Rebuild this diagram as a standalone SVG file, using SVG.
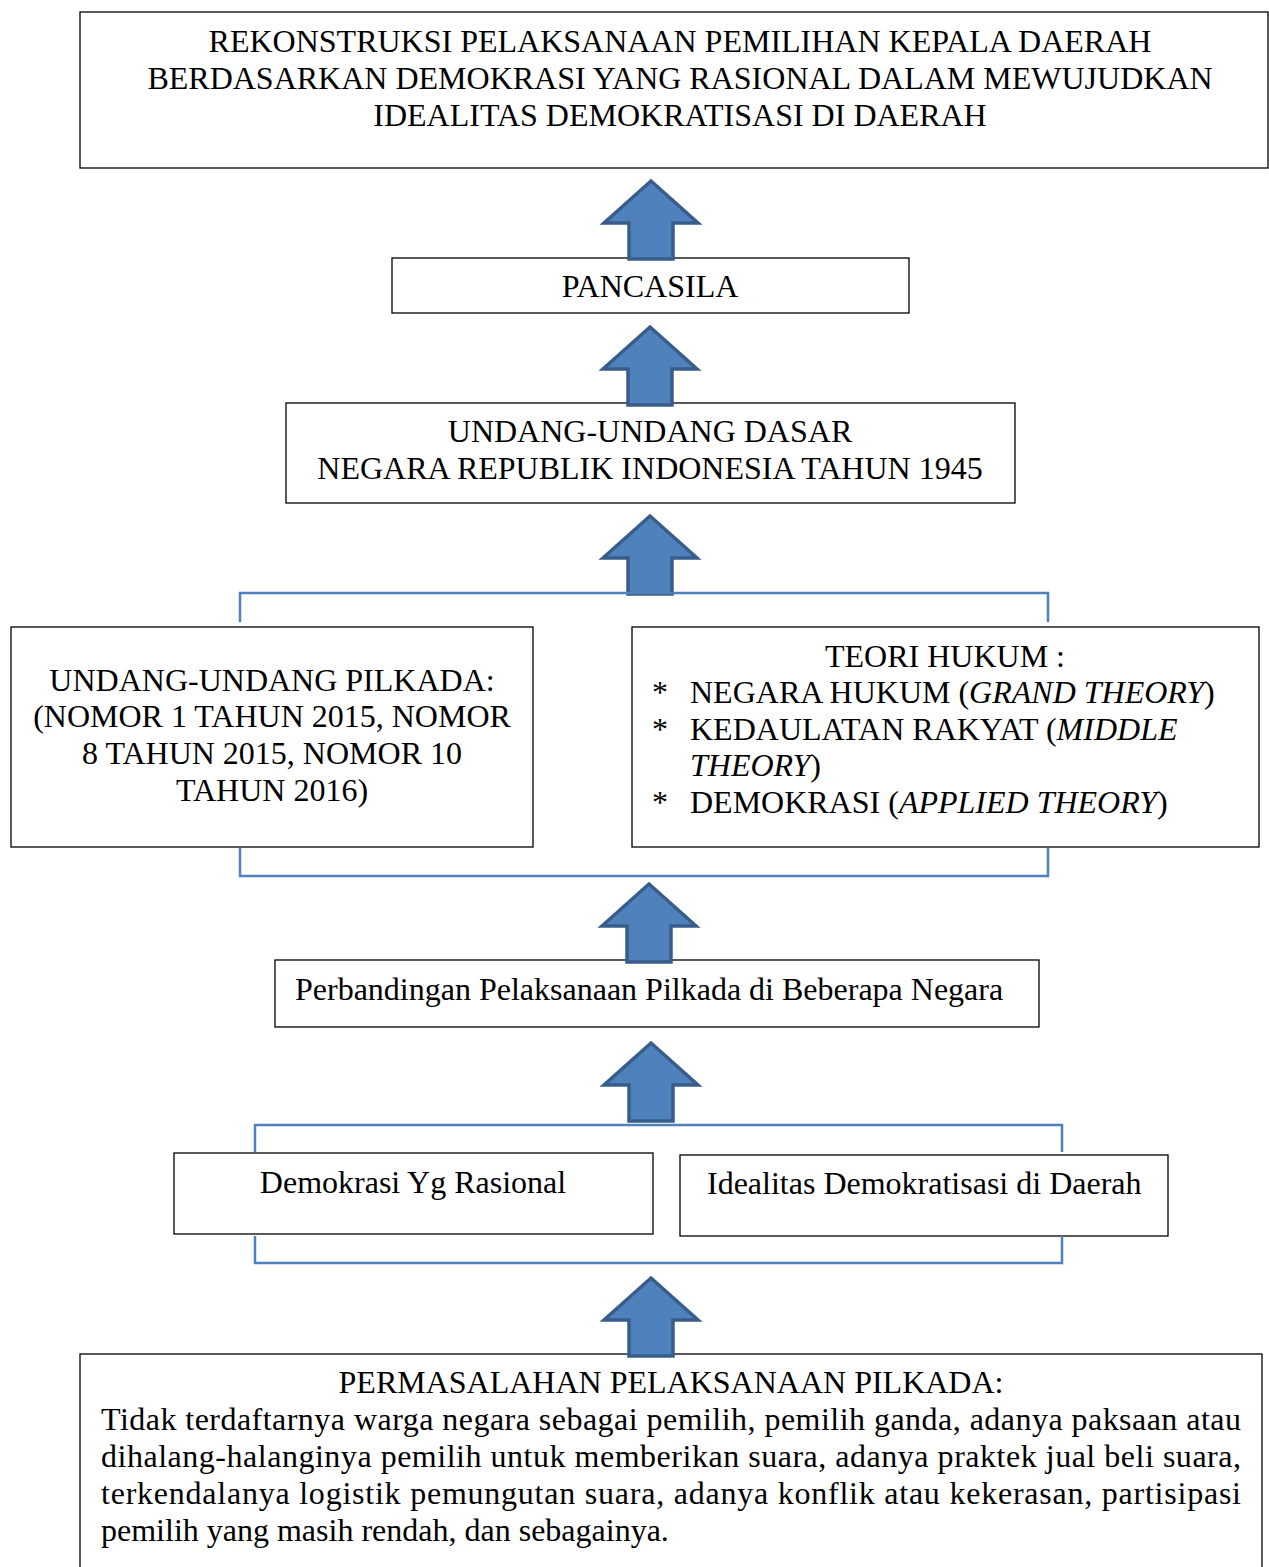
<svg xmlns="http://www.w3.org/2000/svg" width="1269" height="1567" viewBox="0 0 1269 1567">
<defs>
<style>
.box{fill:#fff;stroke:#000;stroke-width:1.3}
.t{font-family:"Liberation Serif","Times New Roman",serif;font-size:32px;fill:#000}
.c{text-anchor:middle}
.br{fill:none;stroke:#4F81BD;stroke-width:2.5}
.ar{fill:#4F81BD;stroke:#385D8A;stroke-width:3.5;stroke-linejoin:miter}
</style>
<path id="arrow" d="M0,0 L47,42 L22,42 L22,78 L-22,78 L-22,42 L-47,42 Z"/>
</defs>
<g id="title">
<rect class="box" x="80" y="12" width="1188" height="156"/>
<text class="t c" x="680" y="52">REKONSTRUKSI PELAKSANAAN PEMILIHAN KEPALA DAERAH</text>
<text class="t c" x="680" y="89">BERDASARKAN DEMOKRASI YANG RASIONAL DALAM MEWUJUDKAN</text>
<text class="t c" x="680" y="126">IDEALITAS DEMOKRATISASI DI DAERAH</text>
</g>
<g id="pancasila">
<rect class="box" x="392" y="258" width="517" height="55"/>
<text class="t c" x="650" y="297">PANCASILA</text>
</g>
<g id="uud">
<rect class="box" x="286" y="403" width="729" height="100"/>
<text class="t c" x="650" y="442">UNDANG-UNDANG DASAR</text>
<text class="t c" x="650" y="479">NEGARA REPUBLIK INDONESIA TAHUN 1945</text>
</g>
<g id="uu-pilkada">
<rect class="box" x="11" y="627" width="522" height="220"/>
<text class="t c" x="272" y="691">UNDANG-UNDANG PILKADA:</text>
<text class="t c" x="272" y="727">(NOMOR 1 TAHUN 2015, NOMOR</text>
<text class="t c" x="272" y="764">8 TAHUN 2015, NOMOR 10</text>
<text class="t c" x="272" y="801">TAHUN 2016)</text>
</g>
<g id="teori-hukum">
<rect class="box" x="632" y="627" width="627" height="220"/>
<text class="t c" x="945" y="667">TEORI HUKUM :</text>
<text class="t" x="652" y="703">*</text>
<text class="t" x="690" y="703">NEGARA HUKUM (<tspan font-style="italic">GRAND THEORY</tspan>)</text>
<text class="t" x="652" y="740">*</text>
<text class="t" x="690" y="740">KEDAULATAN RAKYAT (<tspan font-style="italic">MIDDLE</tspan></text>
<text class="t" x="690" y="776"><tspan font-style="italic">THEORY</tspan>)</text>
<text class="t" x="652" y="813">*</text>
<text class="t" x="690" y="813">DEMOKRASI (<tspan font-style="italic">APPLIED THEORY</tspan>)</text>
</g>
<g id="perbandingan">
<rect class="box" x="275" y="960" width="764" height="67"/>
<text class="t" x="295" y="1000">Perbandingan Pelaksanaan Pilkada di Beberapa Negara</text>
</g>
<g id="demokrasi">
<rect class="box" x="174" y="1153" width="479" height="81"/>
<text class="t c" x="413" y="1193">Demokrasi Yg Rasional</text>
</g>
<g id="idealitas">
<rect class="box" x="680" y="1155" width="488" height="81"/>
<text class="t" x="707" y="1194">Idealitas Demokratisasi di Daerah</text>
</g>
<g id="permasalahan">
<rect class="box" x="80" y="1354" width="1182" height="220"/>
<text class="t c" x="671" y="1393">PERMASALAHAN PELAKSANAAN PILKADA:</text>
<text class="t" x="101" y="1430" textLength="1140" lengthAdjust="spacing">Tidak terdaftarnya warga negara sebagai pemilih, pemilih ganda, adanya paksaan atau</text>
<text class="t" x="101" y="1467" textLength="1140" lengthAdjust="spacing">dihalang-halanginya pemilih untuk memberikan suara, adanya praktek jual beli suara,</text>
<text class="t" x="101" y="1504" textLength="1140" lengthAdjust="spacing">terkendalanya logistik pemungutan suara, adanya konflik atau kekerasan,  partisipasi</text>
<text class="t" x="101" y="1541">pemilih yang masih rendah, dan sebagainya.</text>
</g>
<g id="connectors">
<use href="#arrow" class="ar" x="651" y="181"/>
<use href="#arrow" class="ar" x="650" y="327"/>
<use href="#arrow" class="ar" x="650" y="516"/>
<use href="#arrow" class="ar" x="649" y="884"/>
<use href="#arrow" class="ar" x="651" y="1043"/>
<use href="#arrow" class="ar" x="651" y="1278"/>
<path class="br" d="M240,622 V593 H1048 V622"/>
<path class="br" d="M240,848 V876 H1048 V848"/>
<path class="br" d="M255,1152 V1125 H1062 V1152"/>
<path class="br" d="M255,1236 V1263 H1062 V1236"/>
</g>
</svg>
